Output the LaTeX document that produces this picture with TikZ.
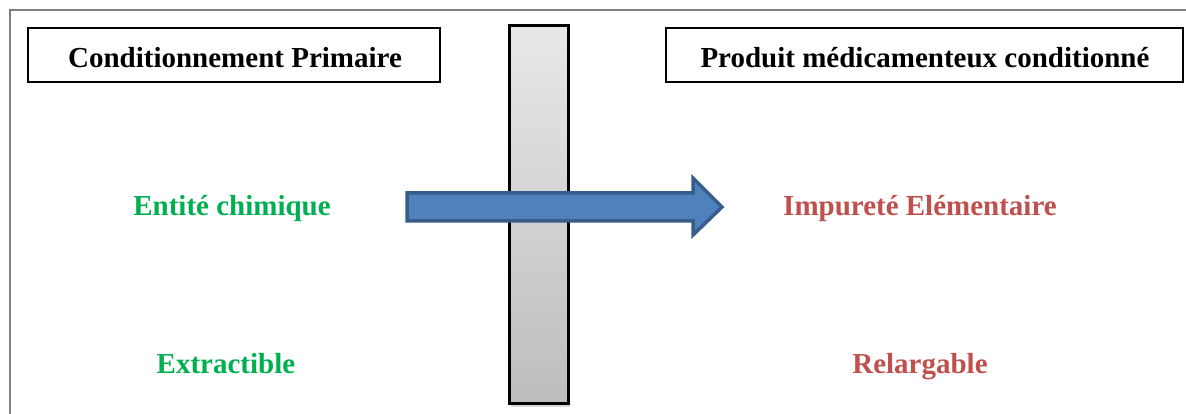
\documentclass[tikz,border=0pt]{standalone}
\usepackage{fontspec}
\setmainfont{Liberation Serif}
\usetikzlibrary{shadows}
\definecolor{framegray}{HTML}{7F7F7F}
\definecolor{entgreen}{HTML}{00B050}
\definecolor{impred}{HTML}{C0504D}
\definecolor{arrfill}{HTML}{4F81BD}
\definecolor{arrdraw}{HTML}{385D8A}
\begin{document}
\begin{tikzpicture}[x=1pt,y=-1pt,
  titlebox/.style={draw=black, line width=1.5pt, minimum height=54pt, inner sep=0pt},
  lbl/.style={font=\fontsize{29}{33}\selectfont\bfseries, inner sep=0pt, anchor=base},
  greenlbl/.style={lbl, text=entgreen},
  redlbl/.style={lbl, text=impred}]
\useasboundingbox (0,0) rectangle (1186,414);
\fill[white] (0,0) rectangle (1186,414);
% outer frame (only top and left visible)
\coordinate (ftl) at (10,10);
\coordinate (ftr) at (1188,10);
\coordinate (fbl) at (10,416);
\draw[framegray, line width=2.2pt] (fbl) -- (ftl) -- (ftr);
% title boxes
\node[titlebox, minimum width=412pt] (boxL) at (234,55) {};
\node[titlebox, minimum width=517pt] (boxR) at (924.5,55) {};
\node[lbl] (titleL) at (235,68) {Conditionnement Primaire};
\node[lbl] (titleR) at (925,68) {Produit médicamenteux conditionné};
% pillar
\node[draw=black, line width=3pt, minimum width=59pt, minimum height=377pt, inner sep=0pt,
  top color=black!9, bottom color=black!26,
  drop shadow={opacity=0.3, shadow xshift=2pt, shadow yshift=-4pt}] (pillar) at (538.5,214.5) {};
% arrow
\coordinate (a1) at (407,193);
\coordinate (a2) at (693,193);
\coordinate (a3) at (693,178);
\coordinate (tip) at (722,207);
\coordinate (a5) at (693,235);
\coordinate (a6) at (693,221);
\coordinate (a7) at (407,221);
\draw[fill=arrfill, draw=arrdraw, line width=3.5pt, line join=miter]
  (a1) -- (a2) -- (a3) -- (tip) -- (a5) -- (a6) -- (a7) -- cycle;
% labels
\node[greenlbl] (ent) at (232,216) {Entité chimique};
\node[greenlbl] (ext) at (226,373) {Extractible};
\node[redlbl] (imp) at (920,215) {Impureté Elémentaire};
\node[redlbl] (rel) at (920,373) {Relargable};
\end{tikzpicture}
\end{document}
